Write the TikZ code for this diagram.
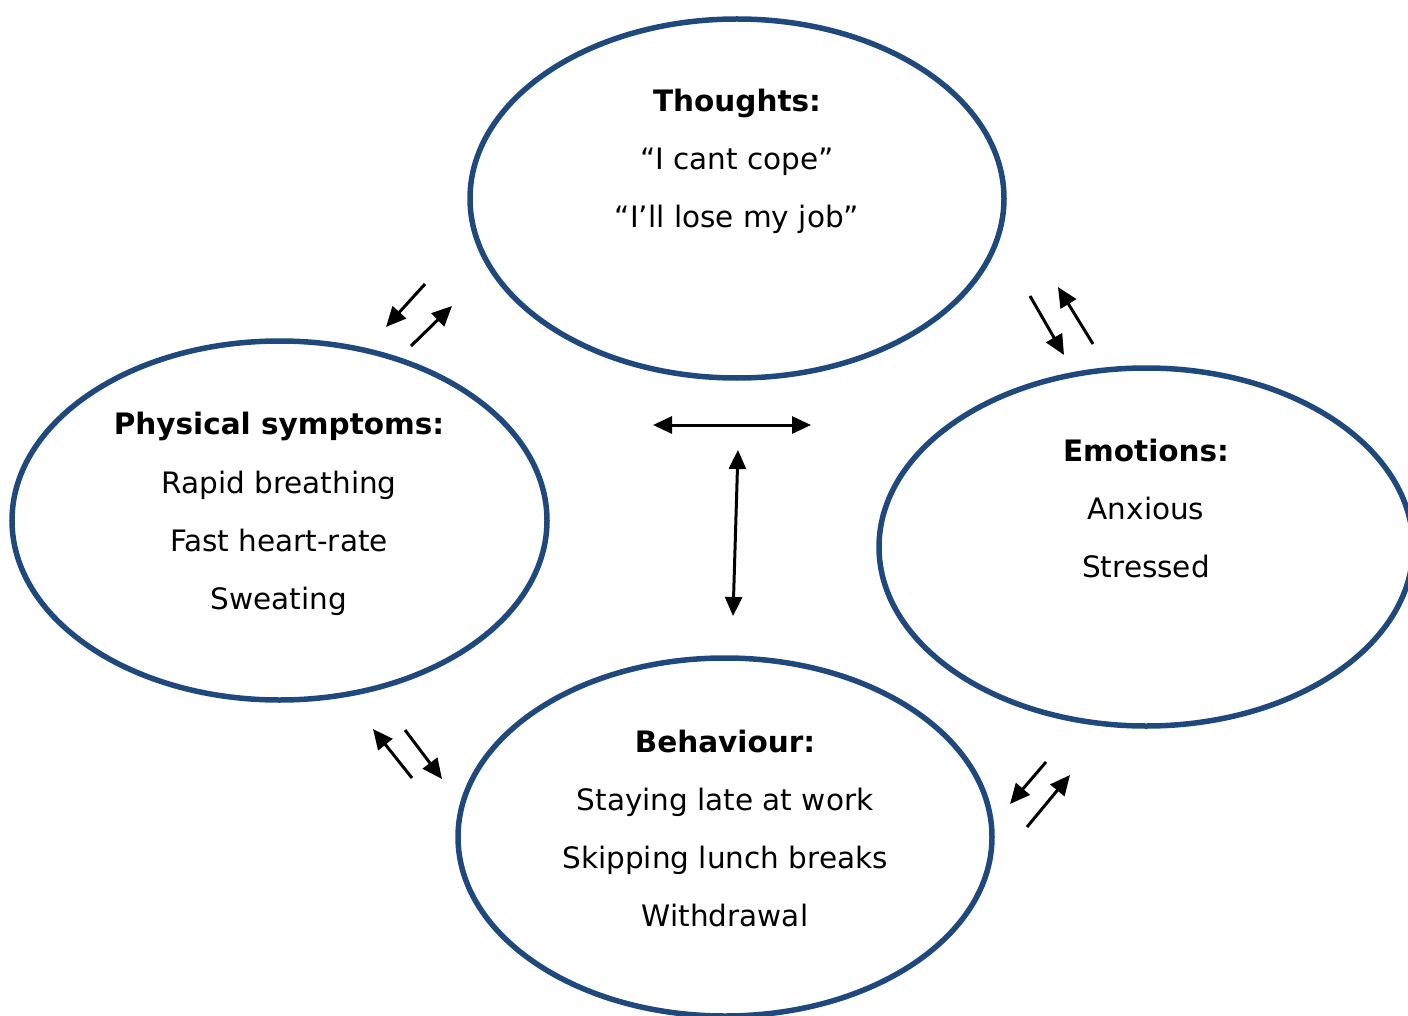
\documentclass[tikz,border=0pt]{standalone}
\usepackage{fontspec}
\setmainfont{DejaVu Sans}
\usetikzlibrary{arrows.meta}
\definecolor{ringblue}{HTML}{1F497D}
\begin{document}
\begin{tikzpicture}[x=1pt,y=-1pt,
  ring/.style={draw=ringblue,line width=5.5pt},
  lbl/.style={align=center,font=\fontsize{29.5}{58}\selectfont,inner sep=0pt,anchor=base},
  arr/.style={line width=3pt,-{Triangle[length=20pt,width=18pt]}},
  darr/.style={line width=3pt,{Triangle[length=19pt,width=17pt]}-{Triangle[length=19pt,width=17pt]}}]
\useasboundingbox (0,0) rectangle (1408,1016);
\begin{scope}
\clip (0,0) rectangle (1408,1016);
\draw[ring] (737,198.5) ellipse [x radius=267, y radius=179.5];
\draw[ring] (279.5,520.5) ellipse [x radius=267.5, y radius=179.5];
\draw[ring] (1146,547) ellipse [x radius=267, y radius=179];
\draw[ring] (725,837) ellipse [x radius=267, y radius=179];
\end{scope}
% Thoughts
\node[lbl] (t1) at (737,112) {\textbf{Thoughts:}};
\node[lbl] (t2) at (737,170) {“I cant cope”};
\node[lbl] (t3) at (737,228) {“I’ll lose my job”};
% Physical
\node[lbl] (p1) at (279,434) {\textbf{Physical symptoms:}};
\node[lbl] (p2) at (279,493) {Rapid breathing};
\node[lbl] (p3) at (279,551) {Fast heart-rate};
\node[lbl] (p4) at (279,609) {Sweating};
% Emotions
\node[lbl] (e1) at (1146,461) {\textbf{Emotions:}};
\node[lbl] (e2) at (1146,519) {Anxious};
\node[lbl] (e3) at (1146,577) {Stressed};
% Behaviour
\node[lbl] (b1) at (725,752) {\textbf{Behaviour:}};
\node[lbl] (b2) at (725,810) {Staying late at work};
\node[lbl] (b3) at (725,868) {Skipping lunch breaks};
\node[lbl] (b4) at (725,926) {Withdrawal};
% arrow coordinates
\coordinate (a1s) at (425,284); \coordinate (a1e) at (386,327);
\coordinate (a2s) at (411,346); \coordinate (a2e) at (452,306);
\coordinate (a3s) at (1030,296); \coordinate (a3e) at (1064,355);
\coordinate (a4s) at (1093,344); \coordinate (a4e) at (1058,287);
\coordinate (h1) at (653,425); \coordinate (h2) at (811,425);
\coordinate (v1) at (738,450); \coordinate (v2) at (733,616);
\coordinate (a5s) at (412,778); \coordinate (a5e) at (373,729);
\coordinate (a6s) at (405,730); \coordinate (a6e) at (442,779);
\coordinate (a7s) at (1046,762); \coordinate (a7e) at (1010,804);
\coordinate (a8s) at (1027,827); \coordinate (a8e) at (1070,775);
\draw[arr] (a1s) -- (a1e);
\draw[arr] (a2s) -- (a2e);
\draw[arr] (a3s) -- (a3e);
\draw[arr] (a4s) -- (a4e);
\draw[darr] (h1) -- (h2);
\draw[darr] (v1) -- (v2);
\draw[arr] (a5s) -- (a5e);
\draw[arr] (a6s) -- (a6e);
\draw[arr] (a7s) -- (a7e);
\draw[arr] (a8s) -- (a8e);
\end{tikzpicture}
\end{document}
